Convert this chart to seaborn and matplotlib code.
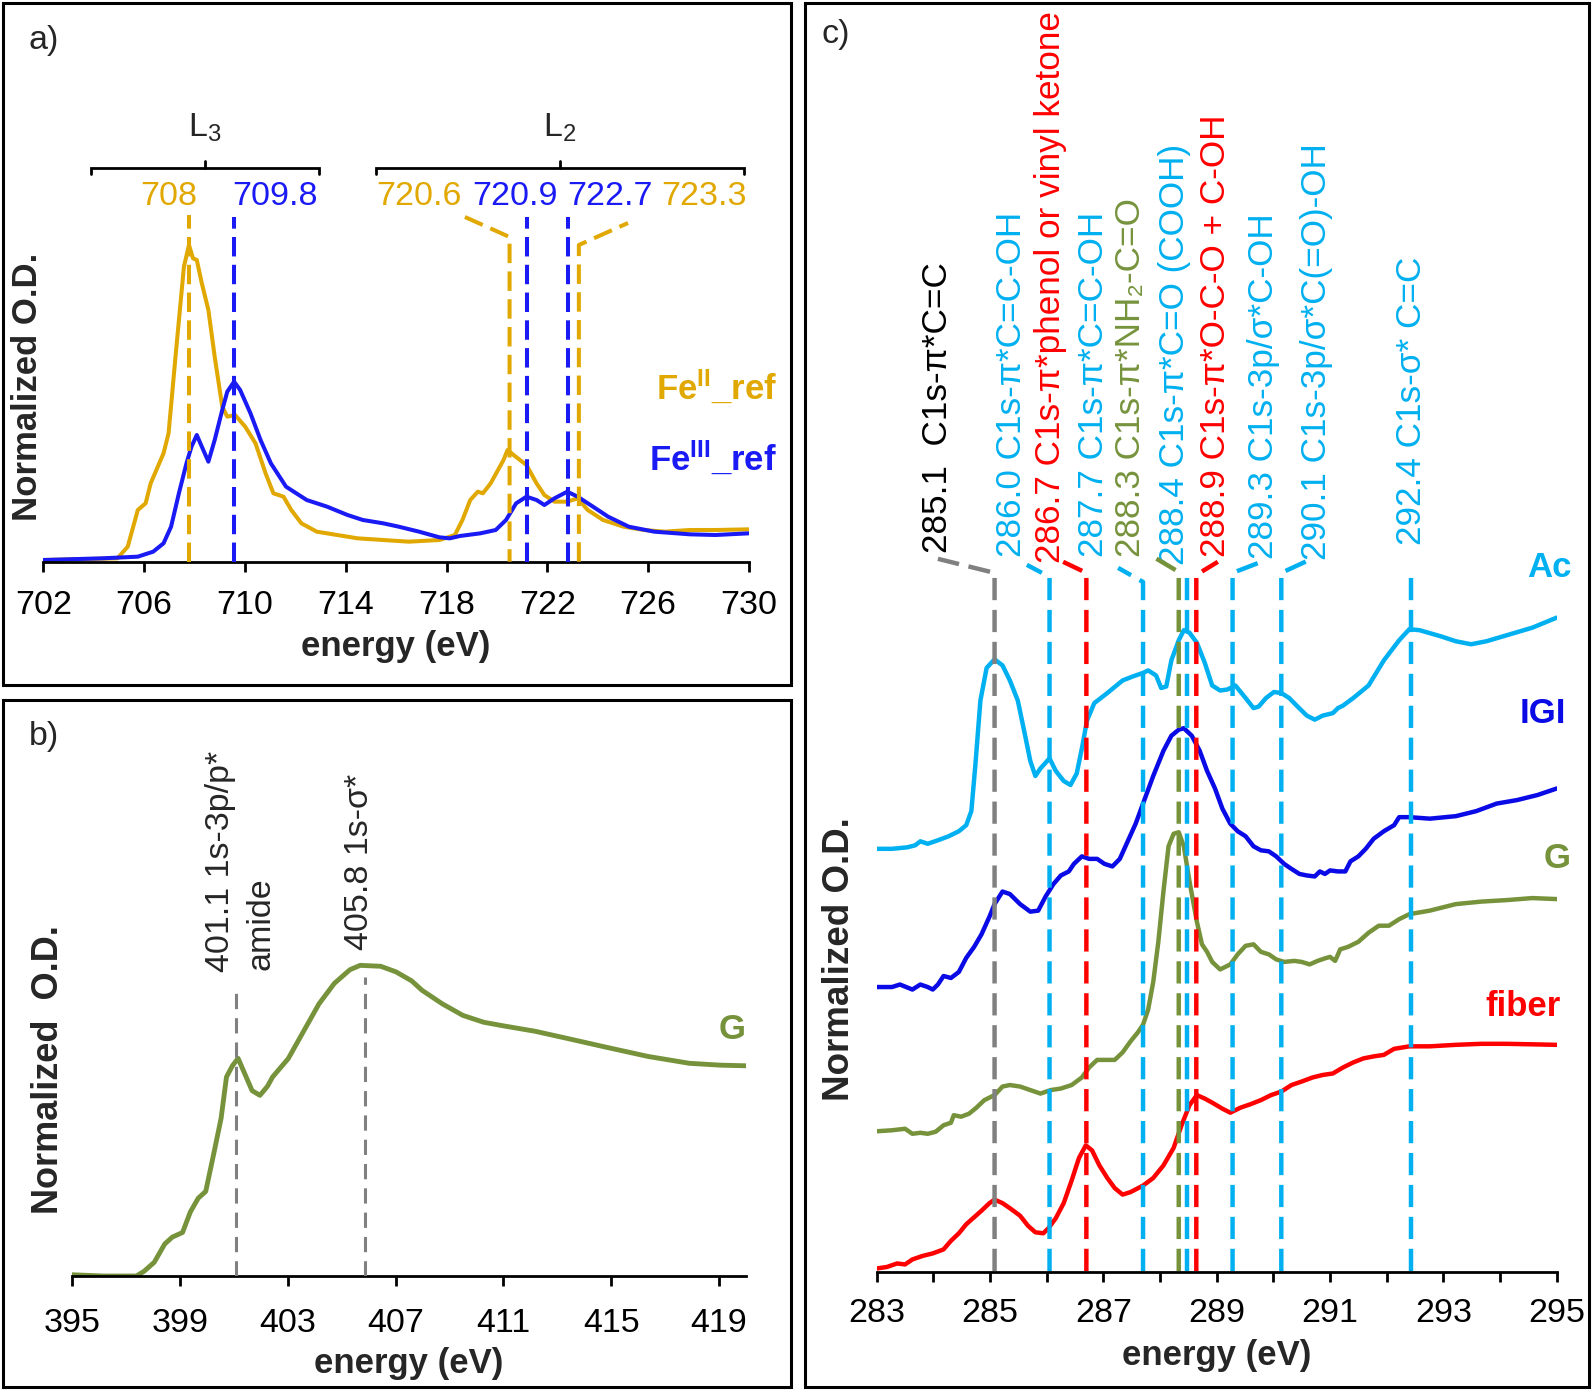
import pandas as pd
import matplotlib
matplotlib.use('Agg')
import matplotlib.pyplot as plt
from matplotlib.patches import Rectangle
import seaborn as sns

W, H = 1593, 1390

# ---------------- panel a: Fe L-edge references ----------------
fe2_e = [702.0, 704.94, 705.35, 705.75, 706.06, 706.26, 706.77, 706.97, 707.27, 707.58,
         707.78, 707.94, 708.09, 708.29, 708.55, 708.80, 709.10, 709.30, 709.61, 710.01,
         710.42, 710.82, 711.13, 711.53, 711.84, 712.24, 712.85, 714.47, 716.50, 717.72,
         718.33, 718.63, 718.94, 719.24, 719.44, 719.75, 720.26, 720.42, 720.66, 721.17,
         721.57, 721.88, 722.28, 722.79, 723.20, 723.60, 724.21, 725.02, 725.83, 726.65,
         727.66, 728.67, 729.99]
fe2_od = [0.005, 0.01, 0.045, 0.155, 0.175, 0.235, 0.325, 0.385, 0.635, 0.885,
          0.95, 0.91, 0.905, 0.835, 0.755, 0.615, 0.465, 0.435, 0.44, 0.405,
          0.355, 0.265, 0.205, 0.195, 0.155, 0.115, 0.09, 0.07, 0.06, 0.065,
          0.08, 0.125, 0.185, 0.21, 0.205, 0.235, 0.305, 0.335, 0.32, 0.29,
          0.235, 0.2, 0.18, 0.18, 0.19, 0.155, 0.125, 0.105, 0.095, 0.09,
          0.095, 0.095, 0.097]
fe3_e = [702.0, 704.33, 705.75, 706.36, 706.77, 707.07, 707.38, 707.68, 707.88, 708.09,
         708.29, 708.55, 708.80, 709.10, 709.30, 709.57, 709.81, 710.22, 710.62, 711.03,
         711.63, 712.45, 713.26, 714.07, 714.68, 715.49, 716.10, 716.91, 717.72, 718.13,
         718.53, 719.34, 719.95, 720.36, 720.76, 721.17, 721.57, 721.88, 722.28, 722.79,
         723.20, 723.81, 724.41, 725.23, 726.24, 727.66, 728.67, 729.99]
fe3_od = [0.005, 0.01, 0.015, 0.03, 0.055, 0.105, 0.205, 0.295, 0.345, 0.38,
          0.345, 0.30, 0.365, 0.455, 0.51, 0.54, 0.515, 0.445, 0.365, 0.295,
          0.225, 0.185, 0.165, 0.14, 0.125, 0.115, 0.105, 0.09, 0.073, 0.07,
          0.077, 0.085, 0.095, 0.125, 0.175, 0.195, 0.185, 0.17, 0.19, 0.21,
          0.195, 0.165, 0.135, 0.105, 0.09, 0.082, 0.08, 0.085]
a_ticks = [702, 706, 710, 714, 718, 722, 726, 730]
a_peak_text = ['708', '709.8', '720.6', '720.9', '722.7', '723.3']
a_peak_text_x = [706.98, 711.2, 716.9, 720.7, 724.5, 728.2]
a_peak_series = ['fe2', 'fe3', 'fe2', 'fe3', 'fe3', 'fe2']
a_marker_x = [[707.8, 707.8], [709.55, 709.55], [718.73, 720.5, 720.5],
              [721.2, 721.2], [722.8, 722.8], [723.25, 723.25, 725.2]]
a_marker_y = [[0, 1.04], [0, 1.034], [1.034, 0.974, 0],
              [0, 1.034], [0, 1.034], [0, 0.95, 1.016]]
a_brackets = [('L$_3$', 703.9, 712.95, 708.4), ('L$_2$', 715.2, 729.8, 722.5)]

# ---------------- panel b: N K-edge ----------------
g_n_e = [395.0, 396.15, 397.39, 397.67, 398.05, 398.44, 398.72, 399.10, 399.39, 399.68,
         399.96, 400.25, 400.53, 400.73, 400.95, 401.16, 401.39, 401.68, 401.97, 402.25,
         402.44, 403.02, 403.59, 404.16, 404.73, 405.31, 405.69, 406.45, 407.02, 407.60,
         407.98, 408.74, 409.50, 410.27, 411.03, 412.18, 413.32, 414.85, 416.37, 417.90,
         419.05, 420.0]
g_n_od = [0.004, 0.0, 0.0, 0.015, 0.044, 0.103, 0.125, 0.14, 0.206, 0.25,
          0.272, 0.39, 0.507, 0.64, 0.676, 0.70, 0.654, 0.596, 0.581, 0.61,
          0.64, 0.699, 0.787, 0.875, 0.941, 0.985, 0.999, 0.996, 0.978, 0.949,
          0.919, 0.875, 0.838, 0.816, 0.804, 0.787, 0.765, 0.735, 0.706, 0.684,
          0.678, 0.676]
b_ticks = [395, 399, 403, 407, 411, 415, 419]
b_line_x = [401.1, 405.85]
b_line_top = [0.929, 0.961]
b_text = ['401.1 1s-3p/p*', 'amide', '405.8 1s-\u03c3*']
b_text_x = [400.49, 402.01, 405.68]
b_text_y = [0.977, 0.984, 1.048]

# ---------------- panel c: C K-edge ----------------
ac_e = [283.00, 283.27, 283.54, 283.68, 283.77, 283.90, 284.08, 284.27, 284.45, 284.58,
        284.67, 284.74, 284.83, 284.94, 285.08, 285.22, 285.35, 285.49, 285.62, 285.71,
        285.80, 285.89, 286.05, 286.16, 286.30, 286.42, 286.53, 286.63, 286.71, 286.84,
        287.07, 287.34, 287.52, 287.70, 287.79, 287.93, 288.02, 288.11, 288.20, 288.33,
        288.42, 288.52, 288.65, 288.79, 288.92, 289.06, 289.19, 289.33, 289.51, 289.65,
        289.74, 289.87, 290.01, 290.14, 290.28, 290.41, 290.59, 290.73, 290.87, 291.05,
        291.14, 291.23, 291.41, 291.68, 291.95, 292.22, 292.40, 292.58, 292.95, 293.22,
        293.49, 293.76, 294.12, 294.57, 295.00]
ac_od = [0.840, 0.840, 0.843, 0.847, 0.855, 0.850, 0.857, 0.865, 0.875, 0.887,
         0.915, 1.005, 1.135, 1.200, 1.217, 1.205, 1.175, 1.135, 1.065, 1.015,
         0.985, 1.000, 1.020, 0.995, 0.975, 0.967, 0.990, 1.045, 1.095, 1.130,
         1.150, 1.175, 1.183, 1.190, 1.195, 1.185, 1.160, 1.163, 1.215, 1.255,
         1.275, 1.270, 1.250, 1.210, 1.165, 1.155, 1.157, 1.165, 1.140, 1.120,
         1.123, 1.140, 1.152, 1.150, 1.140, 1.125, 1.105, 1.097, 1.105, 1.110,
         1.120, 1.125, 1.140, 1.165, 1.215, 1.255, 1.277, 1.275, 1.263, 1.253,
         1.247, 1.253, 1.265, 1.280, 1.300]
igi_e = [283.00, 283.27, 283.41, 283.63, 283.77, 283.90, 283.99, 284.08, 284.18, 284.31,
         284.45, 284.58, 284.72, 284.85, 284.99, 285.08, 285.22, 285.35, 285.53, 285.71,
         285.85, 285.98, 286.12, 286.25, 286.39, 286.48, 286.62, 286.75, 286.89, 287.02,
         287.16, 287.29, 287.43, 287.57, 287.70, 287.88, 288.06, 288.20, 288.33, 288.42,
         288.56, 288.70, 288.83, 288.97, 289.10, 289.24, 289.37, 289.51, 289.65, 289.78,
         289.92, 290.05, 290.19, 290.32, 290.46, 290.59, 290.73, 290.82, 290.91, 291.00,
         291.14, 291.27, 291.36, 291.50, 291.63, 291.77, 291.95, 292.13, 292.22, 292.40,
         292.76, 293.22, 293.58, 293.94, 294.30, 294.66, 295.00]
igi_od = [0.565, 0.565, 0.570, 0.560, 0.570, 0.565, 0.560, 0.570, 0.587, 0.583,
          0.595, 0.623, 0.645, 0.670, 0.705, 0.730, 0.755, 0.750, 0.730, 0.715,
          0.717, 0.745, 0.770, 0.787, 0.795, 0.810, 0.825, 0.820, 0.820, 0.810,
          0.805, 0.820, 0.855, 0.890, 0.930, 0.985, 1.035, 1.065, 1.077, 1.080,
          1.065, 1.035, 0.995, 0.960, 0.920, 0.890, 0.875, 0.865, 0.845, 0.837,
          0.835, 0.825, 0.810, 0.800, 0.790, 0.787, 0.785, 0.795, 0.790, 0.797,
          0.795, 0.795, 0.815, 0.825, 0.840, 0.860, 0.875, 0.887, 0.903, 0.903,
          0.900, 0.905, 0.915, 0.930, 0.937, 0.947, 0.960]
g_c_e = [283.00, 283.27, 283.50, 283.63, 283.77, 283.90, 284.04, 284.18, 284.31, 284.36,
         284.49, 284.63, 284.76, 284.90, 285.08, 285.22, 285.35, 285.53, 285.71, 285.89,
         286.07, 286.25, 286.44, 286.62, 286.75, 286.89, 287.07, 287.20, 287.34, 287.48,
         287.61, 287.70, 287.79, 287.88, 287.97, 288.06, 288.15, 288.24, 288.33, 288.42,
         288.52, 288.65, 288.74, 288.83, 288.92, 289.06, 289.24, 289.37, 289.51, 289.65,
         289.78, 289.92, 290.05, 290.19, 290.37, 290.50, 290.64, 290.78, 290.91, 291.00,
         291.09, 291.18, 291.32, 291.50, 291.68, 291.86, 292.04, 292.22, 292.40, 292.76,
         293.22, 293.67, 294.12, 294.57, 295.00]
g_c_od = [0.278, 0.280, 0.283, 0.273, 0.275, 0.273, 0.277, 0.290, 0.295, 0.310,
          0.307, 0.313, 0.325, 0.340, 0.350, 0.367, 0.370, 0.367, 0.360, 0.353,
          0.360, 0.363, 0.370, 0.385, 0.405, 0.420, 0.420, 0.420, 0.435, 0.457,
          0.475, 0.490, 0.520, 0.575, 0.655, 0.755, 0.845, 0.870, 0.873, 0.845,
          0.775, 0.695, 0.650, 0.635, 0.615, 0.600, 0.610, 0.630, 0.647, 0.650,
          0.635, 0.630, 0.620, 0.615, 0.617, 0.615, 0.610, 0.617, 0.622, 0.625,
          0.617, 0.640, 0.645, 0.655, 0.673, 0.687, 0.687, 0.700, 0.710, 0.717,
          0.730, 0.735, 0.738, 0.742, 0.740]
fib_e = [283.00, 283.18, 283.36, 283.50, 283.63, 283.81, 283.99, 284.18, 284.31, 284.45,
         284.58, 284.72, 284.85, 284.99, 285.08, 285.22, 285.35, 285.53, 285.67, 285.80,
         285.94, 286.03, 286.16, 286.30, 286.44, 286.57, 286.69, 286.80, 286.93, 287.07,
         287.20, 287.34, 287.48, 287.70, 287.88, 288.06, 288.24, 288.38, 288.52, 288.65,
         288.79, 288.92, 289.10, 289.24, 289.42, 289.60, 289.78, 289.96, 290.14, 290.32,
         290.50, 290.69, 290.87, 291.05, 291.23, 291.41, 291.59, 291.77, 291.95, 292.13,
         292.40, 292.76, 293.22, 293.67, 294.12, 294.57, 295.00]
fib_od = [0.005, 0.008, 0.015, 0.013, 0.023, 0.030, 0.035, 0.043, 0.060, 0.075,
          0.093, 0.107, 0.120, 0.135, 0.142, 0.135, 0.125, 0.110, 0.090, 0.077,
          0.075, 0.085, 0.105, 0.135, 0.180, 0.225, 0.250, 0.240, 0.210, 0.185,
          0.165, 0.152, 0.157, 0.170, 0.185, 0.210, 0.245, 0.290, 0.330, 0.350,
          0.343, 0.335, 0.323, 0.315, 0.325, 0.332, 0.340, 0.350, 0.357, 0.370,
          0.377, 0.385, 0.390, 0.393, 0.405, 0.415, 0.423, 0.427, 0.430, 0.442,
          0.447, 0.447, 0.450, 0.452, 0.452, 0.451, 0.450]
c_ticks = list(range(283, 296))
c_ticklabels = ['283', '', '285', '', '287', '', '289', '', '291', '', '293', '', '295']
c_samples = ['Ac', 'IGI', 'G', 'fiber']
c_sample_x = [294.87, 294.76, 295.0, 294.40]
c_sample_y = [1.40, 1.11, 0.82, 0.527]

c_text = ['285.1  C1s-\u03c0*C=C', '286.0 C1s-\u03c0*C=C-OH',
          '286.7 C1s-\u03c0*phenol or vinyl ketone', '287.7 C1s-\u03c0*C=C-OH',
          '288.3 C1s-\u03c0*NH\u2082-C=O', '288.4 C1s-\u03c0*C=O (COOH)',
          '288.9 C1s-\u03c0*O-C-O + C-OH', '289.3 C1s-3p/\u03c3*C-OH',
          '290.1 C1s-3p/\u03c3*C(=O)-OH', '292.4 C1s-\u03c3* C=C']
c_text_x = [284.08, 285.38, 286.06, 286.82, 287.47, 288.26, 288.97, 289.83, 290.76, 292.44]
c_text_y = [1.428, 1.421, 1.409, 1.421, 1.421, 1.405, 1.421, 1.417, 1.415, 1.444]
c_text_color = ['black', 'Ac', 'fiber', 'Ac', 'G', 'Ac', 'fiber', 'Ac', 'Ac', 'Ac']
c_line_color = ['gray', 'Ac', 'fiber', 'Ac', 'G', 'Ac', 'fiber', 'Ac', 'Ac', 'Ac']
c_line_x = [285.08, 286.05, 286.70, 287.70, 288.33, 288.48, 288.64, 289.28, 290.14, 292.42]
c_line_top = [1.389, 1.381, 1.389, 1.371, 1.391, 1.389, 1.385, 1.389, 1.389, 1.395]
c_lead_x = [284.08, 285.65, 286.29, 287.26, 287.91, None, 289.02, 289.74, 290.60, None]
c_lead_y = [1.417, 1.405, 1.411, 1.399, 1.419, None, 1.411, 1.409, 1.413, None]

colors = {'fe2': '#E0A800', 'fe3': '#1A1AF5', 'Ac': '#00B0F0', 'IGI': '#0A0AE6',
          'G': '#76933C', 'fiber': '#FF0000', 'gray': '#808080', 'black': 'black'}

sns.set_style('white')
plt.rcParams['font.family'] = ['Liberation Sans', 'DejaVu Sans']
plt.rcParams['mathtext.fontset'] = 'custom'
plt.rcParams['mathtext.rm'] = 'Liberation Sans'
plt.rcParams['mathtext.bf'] = 'Liberation Sans:bold'
plt.rcParams['mathtext.it'] = 'Liberation Sans:italic'
plt.rcParams['lines.scale_dashes'] = False

FS = 24.5


def px_rect(x0, y0, x1, y1):
    # pixel box (top-left origin) -> figure fraction [l, b, w, h]
    return [x0 / W, 1 - y1 / H, (x1 - x0) / W, (y1 - y0) / H]


def style_axis(ax, xlim, ylim, ticks, ticklabels, pad=13.5, labelpad=6):
    ax.set_xlim(*xlim)
    ax.set_ylim(*ylim)
    for s in ['left', 'right', 'top']:
        ax.spines[s].set_visible(False)
    ax.spines['bottom'].set_linewidth(2.0)
    ax.spines['bottom'].set_color('black')
    ax.set_yticks([])
    ax.set_xticks(ticks)
    ax.set_xticklabels(ticklabels)
    ax.tick_params(axis='x', direction='out', length=7, width=2.0, labelsize=FS,
                   pad=pad, bottom=True, colors='black')
    ax.set_xlabel('energy (eV)', fontsize=25, fontweight='bold', labelpad=labelpad)
    ax.set_ylabel('')
    ax.patch.set_alpha(0)


fig = plt.figure(figsize=(W / 100, H / 100), dpi=100)
fig.patch.set_facecolor('white')

# ---------- a ----------
ax_a = fig.add_axes(px_rect(43.3, 40, 749, 562))
df_a = pd.concat([pd.DataFrame({'energy': fe2_e, 'od': fe2_od, 'ref': 'fe2'}),
                  pd.DataFrame({'energy': fe3_e, 'od': fe3_od, 'ref': 'fe3'})])
sns.lineplot(data=df_a, x='energy', y='od', hue='ref', palette=colors, estimator=None,
             sort=False, legend=False, linewidth=2.9, ax=ax_a)
for xs, ys, ser in zip(a_marker_x, a_marker_y, a_peak_series):
    ax_a.plot(xs, ys, color=colors[ser], lw=2.9, dashes=(14, 6), zorder=4, clip_on=False)
for txt, xc, ser in zip(a_peak_text, a_peak_text_x, a_peak_series):
    ax_a.text(xc, 1.07, txt, color=colors[ser], fontsize=FS, ha='center', va='baseline')
for lab, x0, x1, xm in a_brackets:
    ax_a.plot([x0, x0, x1, x1], [1.163, 1.181, 1.181, 1.163], color='black', lw=2.0,
              clip_on=False, solid_joinstyle='miter')
    ax_a.plot([xm, xm], [1.181, 1.202], color='black', lw=2.0, clip_on=False)
    ax_a.text(xm, 1.275, lab, fontsize=FS, ha='center', va='baseline')
ax_a.text(731.1, 0.524, r'Fe$^{\mathbf{II}}$_ref', color=colors['fe2'], fontsize=25,
          fontweight='bold', ha='right', va='center')
ax_a.text(731.1, 0.311, r'Fe$^{\mathbf{III}}$_ref', color=colors['fe3'], fontsize=25,
          fontweight='bold', ha='right', va='center')
style_axis(ax_a, (702, 730), (-0.001, 1.565), a_ticks, [str(t) for t in a_ticks])

# ---------- b ----------
ax_b = fig.add_axes(px_rect(72, 720, 746, 1276))
df_b = pd.DataFrame({'energy': g_n_e, 'od': g_n_od})
sns.lineplot(data=df_b, x='energy', y='od', color=colors['G'], estimator=None,
             sort=False, linewidth=3.5, ax=ax_b)
for xl, top in zip(b_line_x, b_line_top):
    ax_b.plot([xl, xl], [0, top], color=colors['gray'], lw=2.2, dashes=(11, 6.5), zorder=4)
for txt, xc, yb in zip(b_text, b_text_x, b_text_y):
    ax_b.text(xc, yb, txt, rotation=90, fontsize=FS, ha='center', va='bottom')
ax_b.text(419.5, 0.794, 'G', color=colors['G'], fontsize=25, fontweight='bold',
          ha='center', va='center')
style_axis(ax_b, (395, 420), (0, 1.788), b_ticks, [str(t) for t in b_ticks],
           pad=16, labelpad=6)

# ---------- c ----------
ax_c = fig.add_axes(px_rect(876.7, 10, 1556.7, 1272))
df_c = pd.concat([pd.DataFrame({'energy': fib_e, 'od': fib_od, 'sample': 'fiber'}),
                  pd.DataFrame({'energy': g_c_e, 'od': g_c_od, 'sample': 'G'}),
                  pd.DataFrame({'energy': igi_e, 'od': igi_od, 'sample': 'IGI'}),
                  pd.DataFrame({'energy': ac_e, 'od': ac_od, 'sample': 'Ac'})])
sns.lineplot(data=df_c, x='energy', y='od', hue='sample', palette=colors, estimator=None,
             sort=False, legend=False, linewidth=3.2, ax=ax_c)
for i in range(len(c_line_x)):
    xs = [c_line_x[i], c_line_x[i]]
    ys = [0, c_line_top[i]]
    if c_lead_x[i] is not None:
        xs.append(c_lead_x[i])
        ys.append(c_lead_y[i])
    ax_c.plot(xs, ys, color=colors[c_line_color[i]], lw=3.2, dashes=(16, 7), zorder=4)
    ax_c.text(c_text_x[i], c_text_y[i], c_text[i], rotation=90, fontsize=25.3,
              color=colors[c_text_color[i]], ha='center', va='bottom')
for name, xs_, ys_ in zip(c_samples, c_sample_x, c_sample_y):
    ax_c.text(xs_, ys_, name, color=colors[name], fontsize=25, fontweight='bold',
              ha='center', va='center')
style_axis(ax_c, (283, 295), (-0.002, 2.509), c_ticks, c_ticklabels, pad=12, labelpad=7)

# ---------- frames, panel letters, y labels ----------
for box in [(3, 3, 791, 685), (3, 700, 791, 1387), (805, 3, 1589, 1387)]:
    l, b, w, h = px_rect(*box)
    fig.add_artist(Rectangle((l, b), w, h, transform=fig.transFigure, fill=False,
                             lw=2.2, ec='black'))
for letter, x, y in [('a)', 44, 40), ('b)', 44, 736), ('c)', 836, 34)]:
    fig.text(x / W, 1 - y / H, letter, fontsize=FS, ha='center', va='center')
for txt, x, y, fs in [('Normalized O.D.', 28, 387, 25), ('Normalized  O.D.', 49, 1070, 26),
                      ('Normalized O.D.', 840, 959, 26.5)]:
    fig.text(x / W, 1 - y / H, txt, rotation=90, fontsize=fs, fontweight='bold',
             ha='center', va='center')

fig.savefig('out.png', dpi=100, facecolor='white')
